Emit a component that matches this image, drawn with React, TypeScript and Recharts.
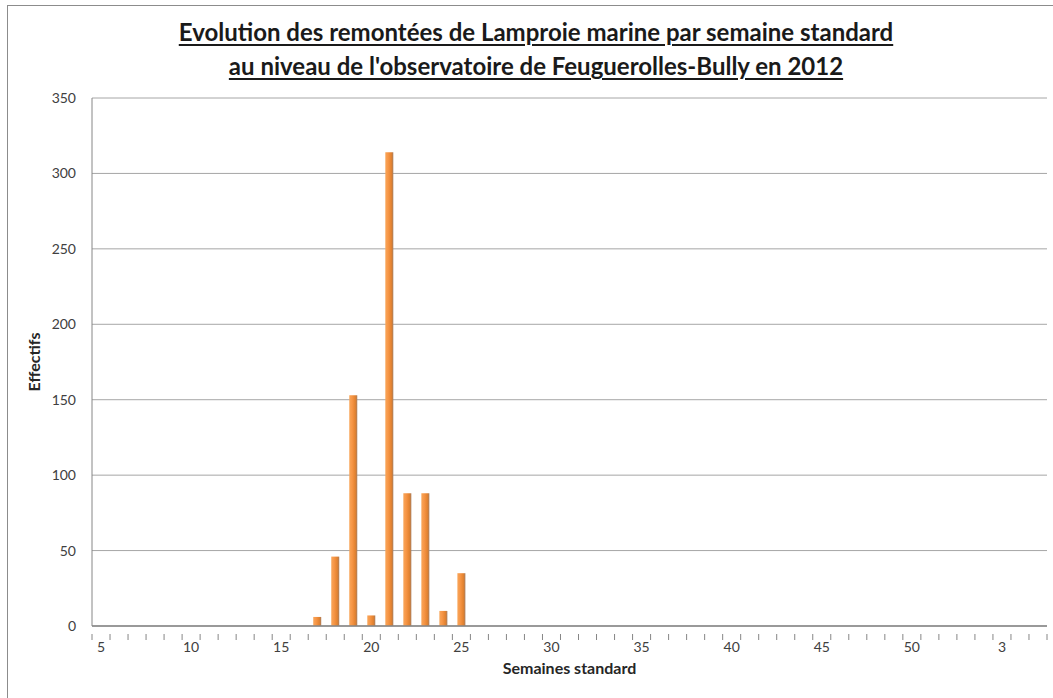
import React from 'react'
import {
  BarChart,
  Bar,
  XAxis,
  YAxis,
  CartesianGrid,
  Label,
} from 'recharts'

// ── Data ──────────────────────────────────────────────────────────────────────

const WEEKS = [
  '5', '6', '7', '8', '9', '10', '11', '12', '13', '14', '15', '16', '17', '18', '19', '20',
  '21', '22', '23', '24', '25', '26', '27', '28', '29', '30', '31', '32', '33', '34', '35', '36',
  '37', '38', '39', '40', '41', '42', '43', '44', '45', '46', '47', '48', '49', '50', '51', '52',
  '1', '2', '3', '4', '5',
]

const COUNTS = [
  0, 0, 0, 0, 0, 0, 0, 0, 0, 0, 0, 0, 6, 46, 153, 7,
  314, 88, 88, 10, 35, 0, 0, 0, 0, 0, 0, 0, 0, 0, 0, 0,
  0, 0, 0, 0, 0, 0, 0, 0, 0, 0, 0, 0, 0, 0, 0, 0,
  0, 0, 0, 0, 0,
]

const Y_TICKS = [0, 50, 100, 150, 200, 250, 300, 350]

const rows = WEEKS.map((week, i) => ({ id: i, week, effectif: COUNTS[i] }))

// ── Layout ────────────────────────────────────────────────────────────────────

const W = 1053
const H = 698
const PLOT_LEFT = 92
const PLOT_RIGHT = 1047
const BAND = (PLOT_RIGHT - PLOT_LEFT) / WEEKS.length

const FONT = 'Lato, "Open Sans", sans-serif'
const AXIS = '#868686'
const GRID = '#a6a6a6'
const TEXT = '#404040'

// ticks sit on category boundaries, labels every 5th week
// eslint-disable-next-line @typescript-eslint/no-explicit-any
function WeekTick({ x, y, payload }: any) {
  const idx = payload.value as number
  const left = x - BAND / 2
  return (
    <g>
      <line x1={left} x2={left} y1={y} y2={y + 6} stroke={AXIS} />
      {idx === WEEKS.length - 1 && (
        <line x1={x + BAND / 2} x2={x + BAND / 2} y1={y} y2={y + 6} stroke={AXIS} />
      )}
      {idx % 5 === 0 && (
        <text x={x} y={y + 18} textAnchor="middle" fill={TEXT} fontSize={14} fontFamily={FONT}>
          {WEEKS[idx]}
        </text>
      )}
    </g>
  )
}

export default function App() {
  return (
    <div
      style={{
        position: 'absolute',
        left: 0,
        top: 0,
        width: W,
        height: H,
        background: '#ffffff',
        overflow: 'hidden',
        fontFamily: FONT,
      }}
    >
      {/* chart frame, cropped at right and bottom */}
      <div
        style={{
          position: 'absolute',
          left: 7,
          top: 5,
          width: W,
          height: H,
          border: '1px solid #8c8c8c',
        }}
      />

      <div
        style={{
          position: 'absolute',
          left: 0,
          top: 15,
          width: 1072,
          textAlign: 'center',
          fontWeight: 700,
          fontSize: 24,
          lineHeight: '34px',
          color: '#1a1a1a',
          textDecoration: 'underline',
          textUnderlineOffset: 3,
          textDecorationThickness: 2,
        }}
      >
        Evolution des remontées de Lamproie marine par semaine standard
        <br />
        au niveau de l'observatoire de Feuguerolles-Bully en 2012
      </div>

      <div style={{ position: 'absolute', left: 0, top: 0 }}>
        <BarChart
          width={W}
          height={H}
          data={rows}
          margin={{ top: 98, right: W - PLOT_RIGHT, bottom: 0, left: 0 }}
          barCategoryGap={0}
        >
          <defs>
            <linearGradient id="barGrad" x1="0" y1="0" x2="1" y2="0">
              <stop offset="0%" stopColor="#f8a65a" />
              <stop offset="35%" stopColor="#f79646" />
              <stop offset="75%" stopColor="#e3822f" />
              <stop offset="100%" stopColor="#a97d5c" />
            </linearGradient>
          </defs>

          <CartesianGrid horizontal vertical={false} stroke={GRID} />

          <XAxis
            dataKey="id"
            interval={0}
            tick={<WeekTick />}
            tickLine={false}
            axisLine={{ stroke: AXIS, strokeWidth: 1.5 }}
            height={72}
          >
            <Label
              value="Semaines standard"
              position="insideTop"
              offset={37}
              fill="#262626"
              fontSize={16}
              fontWeight={700}
              fontFamily={FONT}
            />
          </XAxis>

          <YAxis
            domain={[0, 350]}
            ticks={Y_TICKS}
            interval={0}
            width={PLOT_LEFT}
            tickLine={false}
            axisLine={{ stroke: AXIS }}
            tick={{ fill: TEXT, fontSize: 14, fontFamily: FONT }}
            tickMargin={10}
          >
            <Label
              value="Effectifs"
              angle={-90}
              position="insideLeft"
              offset={34}
              fill="#262626"
              fontSize={16}
              fontWeight={700}
              fontFamily={FONT}
              style={{ textAnchor: 'middle' }}
            />
          </YAxis>

          <Bar
            dataKey="effectif"
            barSize={8}
            fill="url(#barGrad)"
            isAnimationActive={false}
          />
        </BarChart>
      </div>
    </div>
  )
}
